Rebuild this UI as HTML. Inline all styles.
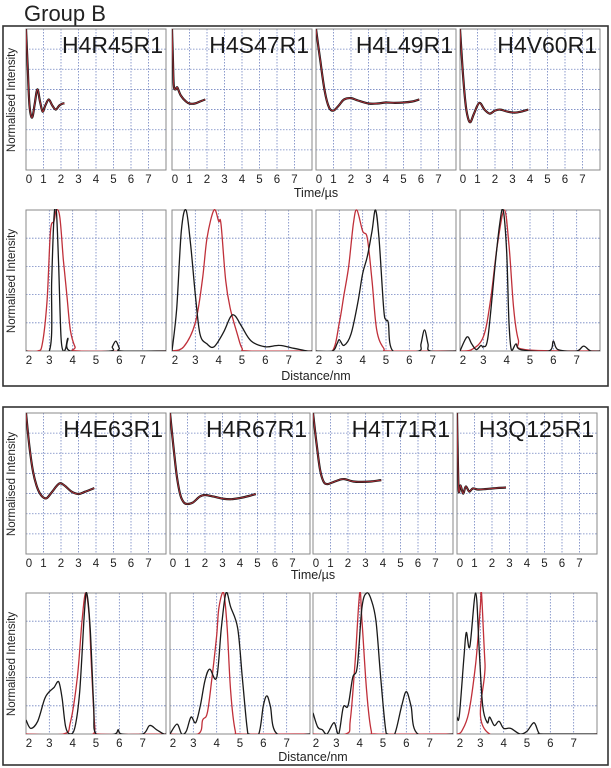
<!DOCTYPE html>
<html><head><meta charset="utf-8"><style>
html,body{margin:0;padding:0;background:#fff;}
svg{display:block;font-family:"Liberation Sans",sans-serif;}
</style></head><body>
<svg id="fig" width="611" height="768" viewBox="0 0 611 768">
<text x="24" y="21" font-size="22" fill="#222">Group B</text>
<rect x="3" y="26" width="605" height="360" fill="none" stroke="#333" stroke-width="1.6"/>
<rect x="3" y="407" width="605" height="358" fill="none" stroke="#333" stroke-width="1.6"/>
</svg>
<script>
// ---- Time-domain data (t in µs, v in grid rows 0..7) ----
const labels1 = ["H4R45R1","H4S47R1","H4L49R1","H4V60R1"];
const labels2 = ["H4E63R1","H4R67R1","H4T71R1","H3Q125R1"];
const t_R45 = [0,0.1,0.2,0.35,0.5,0.65,0.8,0.95,1.1,1.3,1.5,1.7,1.9,2.1,2.2];
const v_R45 = [7,5,3.2,2.6,3.3,4.0,3.4,2.9,3.2,3.5,3.2,3.0,3.2,3.3,3.3];
const t_S47 = [0,0.05,0.1,0.2,0.3,0.5,0.8,1.0,1.3,1.6,1.9];
const v_S47 = [7,5.5,4.2,4.0,4.1,3.7,3.4,3.3,3.3,3.4,3.5];
const t_L49 = [0,0.25,0.5,0.75,1,1.3,1.6,2,2.4,3,3.5,4,4.5,5,5.5,5.9];
const v_L49 = [7,5.4,3.9,3.1,2.95,3.2,3.5,3.57,3.45,3.3,3.3,3.35,3.33,3.35,3.4,3.5];
const t_V60 = [0,0.15,0.3,0.45,0.6,0.8,1.1,1.4,1.7,2,2.3,2.7,3.1,3.5,3.9];
const v_V60 = [7,5,3.4,2.6,2.38,2.8,3.33,3.0,2.8,2.95,3.0,2.9,2.85,2.9,3.0];
const t_E63 = [0,0.2,0.4,0.6,0.8,1.0,1.2,1.5,1.9,2.2,2.6,3,3.4,3.9];
const v_E63 = [7,5.3,4.1,3.4,3.0,2.8,2.78,3.1,3.5,3.4,3.1,2.98,3.1,3.27];
const t_R67 = [0,0.2,0.4,0.6,0.8,1.0,1.3,1.7,2,2.5,3,3.5,4,4.5,4.9];
const v_R67 = [7,5.3,3.8,2.9,2.55,2.48,2.55,2.85,2.93,2.85,2.75,2.72,2.78,2.88,2.98];
const t_T71 = [0,0.2,0.4,0.6,0.8,1.1,1.5,1.8,2.3,2.8,3.3,3.9];
const v_T71 = [7,5.5,4.2,3.6,3.47,3.55,3.68,3.72,3.6,3.58,3.6,3.67];
const t_Q125 = [0,0.05,0.1,0.2,0.35,0.5,0.7,0.9,1.2,1.6,2,2.4,2.8];
const v_Q125 = [7,4.5,3.1,3.4,3.0,3.35,3.1,3.25,3.2,3.22,3.25,3.28,3.3];
// ---- Distance distributions (r in nm, p normalised 0..1) ----
const rb_R45 = [2,3.0,3.1,3.2,3.3,3.4,3.5,3.6,3.7,3.8,3.9,5.6,5.7,5.85,6.0,6.1,8];
const pb_R45 = [0,0,0.5,0.95,1.0,0.6,0.1,0,0.02,0.09,0,0,0.03,0.07,0.02,0,0];
const rr_R45 = [2,2.5,2.7,2.9,3.05,3.2,3.3,3.45,3.6,3.75,3.9,4.1,4.3,8];
const pr_R45 = [0,0,0.05,0.35,0.85,0.92,1.0,0.95,0.65,0.4,0.15,0.03,0,0];
const rb_S47 = [2,2.2,2.4,2.6,2.8,3.0,3.2,3.5,3.8,4.2,4.5,4.7,5.0,5.4,6.0,6.6,7.2,7.8,8];
const pb_S47 = [0,0.3,0.85,1.0,0.75,0.4,0.12,0.05,0.03,0.13,0.24,0.25,0.17,0.07,0.03,0.04,0.02,0,0];
const rr_S47 = [2,2.5,3.0,3.3,3.5,3.8,4.0,4.1,4.3,4.5,4.8,5.0,5.3,8];
const pr_S47 = [0,0.03,0.2,0.5,0.8,1.0,0.92,0.9,0.5,0.3,0.12,0.02,0,0];
const rb_L49 = [2,2.7,2.9,3.0,3.2,3.5,3.8,4.0,4.2,4.4,4.55,4.7,4.9,5.0,5.1,5.3,6.4,6.5,6.65,6.8,6.9,8];
const pb_L49 = [0,0,0.05,0.08,0.04,0.12,0.35,0.55,0.67,0.85,1.0,0.8,0.3,0.22,0.2,0,0,0.05,0.15,0.05,0,0];
const rr_L49 = [2,2.7,3.0,3.2,3.4,3.6,3.75,4.0,4.2,4.4,4.6,4.9,5.2,8];
const pr_L49 = [0,0,0.2,0.4,0.6,0.9,1.0,0.85,0.8,0.5,0.15,0.02,0,0];
const rb_V60 = [2,2.3,2.5,2.7,2.9,3.0,3.2,3.5,3.7,3.85,4.0,4.1,4.2,4.4,4.6,5.8,6.0,6.2,7.0,7.3,7.6,8];
const pb_V60 = [0,0.1,0.05,0.01,0.04,0.03,0.1,0.6,0.9,1.0,0.7,0.2,0.01,0.05,0.01,0,0.07,0.01,0,0.035,0,0];
const rr_V60 = [2,2.5,3.0,3.3,3.6,3.9,4.1,4.3,4.5,4.8,8];
const pr_V60 = [0,0.01,0.1,0.35,0.75,1.0,0.75,0.3,0.08,0.01,0];
const rb_E63 = [2,2.2,2.5,2.8,3.0,3.2,3.4,3.55,3.7,3.9,4.1,4.3,4.5,4.6,4.75,4.9,5.0,5.8,5.95,6.1,7.0,7.3,7.6,7.9,8];
const pb_E63 = [0.1,0.04,0.09,0.25,0.3,0.33,0.37,0.25,0.05,0,0.05,0.3,0.85,1.0,0.75,0.2,0,0,0.03,0,0,0.06,0.03,0,0];
const rr_E63 = [2,3.6,3.9,4.2,4.4,4.55,4.7,4.8,4.95,5.1,8];
const pr_E63 = [0,0,0.08,0.4,0.8,1.0,0.85,0.5,0.05,0,0];
const rb_R67 = [2,2.3,2.5,2.7,2.9,3.1,3.3,3.5,3.7,4.0,4.2,4.4,4.6,4.9,5.1,5.3,5.4,5.8,6.0,6.15,6.3,6.6,8];
const pb_R67 = [0,0.07,0,0.02,0.12,0.08,0.2,0.38,0.46,0.4,0.75,1.0,0.9,0.75,0.4,0.05,0,0,0.2,0.27,0.2,0,0];
const rr_R67 = [2,3.2,3.4,3.6,3.8,4.0,4.1,4.3,4.45,4.6,4.8,5.0,8];
const pr_R67 = [0,0,0.1,0.15,0.4,0.7,0.9,1.0,0.75,0.3,0.02,0,0];
const rb_T71 = [2,2.2,2.4,2.6,2.9,3.1,3.3,3.5,3.7,3.9,4.1,4.3,4.5,4.7,4.9,5.1,5.2,5.5,5.8,6.0,6.2,6.5,8];
const pb_T71 = [0.15,0.05,0.03,0,0.08,0,0.19,0.2,0.4,0.48,0.9,1.0,0.95,0.8,0.4,0.05,0,0,0.2,0.3,0.2,0,0];
const rr_T71 = [2,3.4,3.6,3.8,4.0,4.1,4.3,4.5,4.7,8];
const pr_T71 = [0,0,0.1,0.5,1.0,0.8,0.3,0.02,0,0];
const rb_Q125 = [2,2.1,2.3,2.4,2.55,2.8,2.95,3.1,3.3,3.4,3.6,3.8,4.0,4.3,4.7,5.0,5.3,5.5,5.7,8];
const pb_Q125 = [0.12,0.13,0.55,0.72,0.62,1.0,0.6,0.2,0.08,0.12,0.06,0.09,0.04,0.04,0,0.02,0.08,0.01,0,0];
const rr_Q125 = [2,2.2,2.5,2.8,3.0,3.05,3.2,3.4,8];
const pr_Q125 = [0,0.02,0.15,0.5,0.9,1.0,0.5,0,0];

const NS="http://www.w3.org/2000/svg";
const svg=document.getElementById('fig');
function mk(tag,attrs,parent){const e=document.createElementNS(NS,tag);for(const k in attrs)e.setAttribute(k,attrs[k]);(parent||svg).appendChild(e);return e;}
function smooth(pts){
  let d="M"+pts[0][0].toFixed(1)+","+pts[0][1].toFixed(1);
  for(let i=0;i<pts.length-1;i++){
    const p0=pts[Math.max(0,i-1)],p1=pts[i],p2=pts[i+1],p3=pts[Math.min(pts.length-1,i+2)];
    const c1=[p1[0]+(p2[0]-p0[0])/6,p1[1]+(p2[1]-p0[1])/6];
    const c2=[p2[0]-(p3[0]-p1[0])/6,p2[1]-(p3[1]-p1[1])/6];
    d+="C"+c1[0].toFixed(1)+","+c1[1].toFixed(1)+" "+c2[0].toFixed(1)+","+c2[1].toFixed(1)+" "+p2[0].toFixed(1)+","+p2[1].toFixed(1);
  }
  return d;
}
let clipId=0;
function panel(x,y,w,h,xmin,xmax,xticks,nrows,name){
  const g=mk('g',{});
  
  
  const sx=v=>x+(v-xmin)/(xmax-xmin)*w;
  for(const t of xticks){ if(t>xmin){const l=mk('line',{x1:sx(t),x2:sx(t),y1:y,y2:y+h,stroke:'#7083c0','stroke-width':0.8,'stroke-dasharray':'1.5,1.5'},g);
    
    }}
  for(let i=1;i<nrows;i++){const yy=y+h*i/nrows;const l=mk('line',{x1:x,x2:x+w,y1:yy,y2:yy,stroke:'#7083c0','stroke-width':0.8,'stroke-dasharray':'1.5,1.5'},g);
    
    }
  const r=mk('rect',{x:x,y:y,width:w,height:h,fill:'none',stroke:'#8a8a8a','stroke-width':1},g);
  
  
  for(const t of xticks){const tx=mk('text',{x:sx(t)+(t===xmin?3:0),y:y+h+13,'font-size':11.5,'text-anchor':'middle',fill:'#222'},g);tx.textContent=t;
    
    }
  const cp=mk('clipPath',{id:'c'+(++clipId)},g);mk('rect',{x:x,y:y-1,width:w,height:h+1},cp);
  return {g,sx,clip:'url(#c'+clipId+')'};
}
function drawSeries(P,xs,vs,sy,color,width,name){
  const pts=xs.map((v,i)=>[P.sx(v),sy(vs[i])]);
  const p=mk('path',{d:smooth(pts),fill:'none',stroke:color,'stroke-width':width,'clip-path':P.clip,'stroke-linejoin':'round'},P.g);
  
  
}
function timePanel(x,y,w,h,t,v,label,name){
  const P=panel(x,y,w,h,0,8,[0,1,2,3,4,5,6,7],7,name);
  const sy=val=>y+h-val/7*h;
  drawSeries(P,t,v,sy,'#1a1a1a',2.2,'data-trace');
  drawSeries(P,t,v,sy,'#c0303a',0.8,'fit-line');
  const lb=mk('text',{x:x+w-3,y:y+24,'font-size':23,'text-anchor':'end',fill:'#1a1a1a'},P.g);lb.textContent=label;
  
  
}
function distPanel(x,y,w,h,rb,pb,rr,pr,name){
  const P=panel(x,y,w,h,2,8,[2,3,4,5,6,7],5,name);
  const sy=val=>y+h-val*h;
  drawSeries(P,rr,pr,sy,'#c0303a',1.3,'model-distribution');
  drawSeries(P,rb,pb,sy,'#1a1a1a',1.3,'measured-distribution');
}
function ylab(x,cy,name){const t=mk('text',{x:x,y:cy,'font-size':11.5,'text-anchor':'middle',fill:'#222',transform:'rotate(-90 '+x+' '+cy+')'});t.textContent='Normalised Intensity';
  
  }
function xlab(x,y,txt,name){const t=mk('text',{x:x,y:y,'font-size':12.5,'text-anchor':'middle',fill:'#222'});t.textContent=txt;
  
  }

const X1=[26,172,316,460], X2=[26,170,313,457], W=140;
const T1=[[t_R45,v_R45],[t_S47,v_S47],[t_L49,v_L49],[t_V60,v_V60]];
const T2=[[t_E63,v_E63],[t_R67,v_R67],[t_T71,v_T71],[t_Q125,v_Q125]];
const D1=[[rb_R45,pb_R45,rr_R45,pr_R45],[rb_S47,pb_S47,rr_S47,pr_S47],[rb_L49,pb_L49,rr_L49,pr_L49],[rb_V60,pb_V60,rr_V60,pr_V60]];
const D2=[[rb_E63,pb_E63,rr_E63,pr_E63],[rb_R67,pb_R67,rr_R67,pr_R67],[rb_T71,pb_T71,rr_T71,pr_T71],[rb_Q125,pb_Q125,rr_Q125,pr_Q125]];
for(let i=0;i<4;i++){
  timePanel(X1[i],29,W,141,T1[i][0],T1[i][1],labels1[i],'time-panel-'+labels1[i].toLowerCase());
  distPanel(X1[i],210,W,141,...D1[i],'distance-panel-'+labels1[i].toLowerCase());
  timePanel(X2[i],413,W,141,T2[i][0],T2[i][1],labels2[i],'time-panel-'+labels2[i].toLowerCase());
  distPanel(X2[i],593,W,141,...D2[i],'distance-panel-'+labels2[i].toLowerCase());
}
ylab(15,100,'y-axis-title-time-1');ylab(15,281,'y-axis-title-dist-1');
ylab(15,484,'y-axis-title-time-2');ylab(15,664,'y-axis-title-dist-2');
xlab(316,197,'Time/\u00b5s','x-axis-title-time-1');
xlab(316,380,'Distance/nm','x-axis-title-dist-1');
xlab(313,579,'Time/\u00b5s','x-axis-title-time-2');
xlab(313,761,'Distance/nm','x-axis-title-dist-2');
</script>
</body></html>
